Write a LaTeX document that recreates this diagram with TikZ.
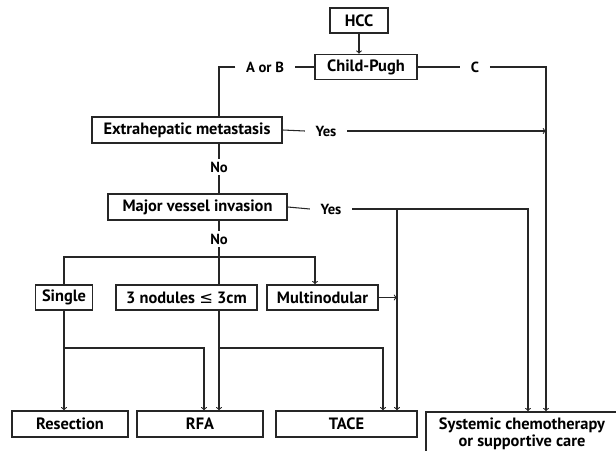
\documentclass[tikz,border=0pt]{standalone}
\usepackage{fontspec}
\setsansfont{PT Sans}
\newfontfamily\symfont{DejaVu Sans}
\usepackage{tikz}
\usetikzlibrary{arrows}

\begin{document}
\begin{tikzpicture}[
    x = .03cm,
    y = -.03cm,
    font = \sffamily\bfseries\fontsize{14}{16}\selectfont,
    >=to,
    boxf/.style = {
      rectangle,
      draw=black!85,
      line width=1.4pt,
      fill=white,
      inner sep=1pt,
      minimum height=.77cm
    },
    labf/.style = {
      inner xsep=9pt,
      inner ysep=2.5pt,
      font=\sffamily\bfseries\fontsize{12.5}{14}\selectfont
    },
    linef/.style = {
      draw=black!85,
      line width=.9pt
    }
  ]
    \clip (0,0) rectangle (616,451);

    % boxes
    \node[boxf, minimum width=1.74cm, minimum height=.75cm] (hcc) at (359,20.5) {HCC};
    \node[boxf, minimum width=3.06cm, minimum height=.75cm] (cp) at (366,67) {Child-Pugh};
    \node[boxf, minimum width=5.7cm] (extra) at (187,130) {Extrahepatic metastasis};
    \node[boxf, minimum width=5.37cm] (major) at (197.5,207) {Major vessel invasion};
    \node[boxf, minimum width=1.71cm, minimum height=.75cm] (single) at (64,297.5) {Single};
    \node[boxf, minimum width=4.23cm, minimum height=.75cm] (nod3) at (186.5,297.5) {3 nodules {\symfont\mdseries ≤} 3cm};
    \node[boxf, minimum width=3.33cm, minimum height=.75cm] (multi) at (322.5,297.5) {Multinodular};
    \node[boxf, minimum width=3.48cm] (resec) at (70,424) {Resection};
    \node[boxf, minimum width=3.78cm] (rfa) at (200,424) {RFA};
    \node[boxf, minimum width=4.23cm] (tace) at (346.5,424) {TACE};
    \node[boxf, minimum width=5.76cm, minimum height=1.32cm, align=center,
      font=\sffamily\bfseries\fontsize{14}{14.5}\selectfont] (syst) at (522,434)
      {Systemic chemotherapy\\or supportive care};

    % labels
    \node[labf] (aorb) at (265,67) {A or B};
    \node[labf] (clab) at (475,67) {C};
    \node[labf] (yes1) at (326,131) {Yes};
    \node[labf] (no1) at (219,167) {No};
    \node[labf] (yes2) at (331,209) {Yes};
    \node[labf] (no2) at (219,239) {No};

    % drop lines
    \coordinate (cdrop) at (546,0);
    \coordinate (vdrop) at (528,0);
    \coordinate (tdrop) at (397,0);
    \coordinate (tdropb) at (383,0);
    \coordinate (rdrop) at (204,0);
    \coordinate (mdrop) at (315,0);
    \coordinate (fork) at (219,257);
    \coordinate (low) at (0,348);

    \draw[linef, ->] (hcc.south) -- (hcc.south |- cp.north);
    \draw[linef] (cp.west) -- (aorb.east);
    \draw[linef] (aorb.west) -| (no1 |- extra.north);
    \draw[linef] (cp.east) -- (clab.west);
    \draw[linef, ->] (clab.east) -| (cdrop |- syst.north);
    \draw[linef] (extra.east) -- (yes1.west);
    \draw[linef, ->] (yes1.east) -- (yes1 -| cdrop);
    \draw[linef] (no1 |- extra.south) -- (no1.north);
    \draw[linef] (no1.south) -- (no1 |- major.north);
    \draw[linef] (major.east) -- (yes2.west);
    \draw[linef, ->] (yes2.east) -| (vdrop |- syst.north);
    \draw[linef, ->] (yes2 -| tdrop) -- (tdrop |- tace.north);
    \draw[linef, ->] (multi.east) -- (multi -| tdrop);
    \draw[linef] (no2 |- major.south) -- (no2.north);
    \draw[linef] (no2.south) -- (no2 |- nod3.north);
    \draw[linef, ->] (single.north) |- (fork) -| (mdrop |- multi.north);
    \draw[linef, ->] (single.south) -- (single.south |- resec.north);
    \draw[linef, ->] (single.south |- low) -| (rdrop |- rfa.north);
    \draw[linef, ->] (no2 |- nod3.south) -- (no2 |- rfa.north);
    \draw[linef, ->] (no2 |- low) -| (tdropb |- tace.north);
  \end{tikzpicture}
\end{document}
